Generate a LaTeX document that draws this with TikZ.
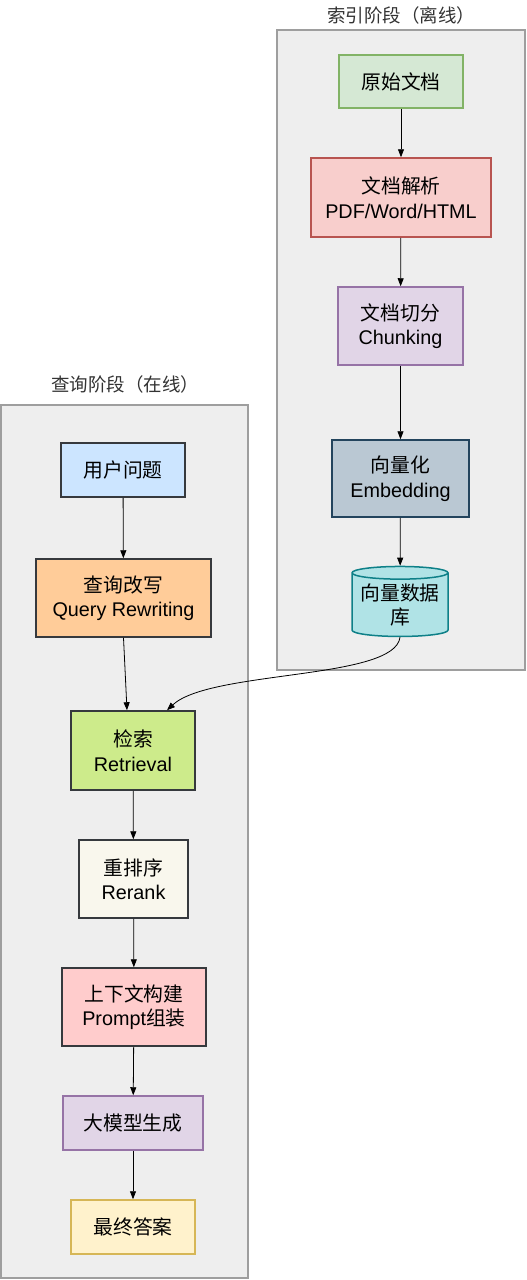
\documentclass[tikz,border=0pt]{standalone}
\usepackage{fontspec}
\setmainfont{Liberation Sans}
\newfontfamily\cjk{Noto Sans CJK SC}
\usetikzlibrary{shapes.geometric,arrows.meta}

\definecolor{stagefill}{HTML}{EEEEEE}
\definecolor{stageline}{HTML}{9E9E9E}
\definecolor{darkline}{HTML}{36393D}
\definecolor{greenfill}{HTML}{D5E8D4}
\definecolor{greenline}{HTML}{82B366}
\definecolor{redfill}{HTML}{F8CECC}
\definecolor{redline}{HTML}{B85450}
\definecolor{purplefill}{HTML}{E1D5E7}
\definecolor{purpleline}{HTML}{9673A6}
\definecolor{slatefill}{HTML}{BAC8D3}
\definecolor{slateline}{HTML}{23445D}
\definecolor{tealfill}{HTML}{B0E3E6}
\definecolor{tealline}{HTML}{0E8088}
\definecolor{bluefill}{HTML}{CCE5FF}
\definecolor{orangefill}{HTML}{FFCC99}
\definecolor{limefill}{HTML}{CDEB8B}
\definecolor{creamfill}{HTML}{F9F7ED}
\definecolor{pinkfill}{HTML}{FFCCCC}
\definecolor{yellowfill}{HTML}{FFF2CC}
\definecolor{yellowline}{HTML}{D6B656}

\tikzset{
  stage/.style={draw=stageline,fill=stagefill,line width=2pt,inner sep=0pt},
  stagetitle/.style={text=black!80,font=\fontsize{18.5}{22}\selectfont\cjk},
  box/.style={draw,line width=1.5pt,align=center,inner sep=2pt,
    font=\fontsize{19.8}{24.5}\selectfont},
  flow/.style={-{Triangle[length=8pt,width=6pt]},line width=0.8pt,black}
}

\begin{document}
\begin{tikzpicture}[x=1pt,y=-1pt]
      \useasboundingbox (0,0) rectangle (527,1280);

      % stages
      \node[stage,minimum width=248,minimum height=640] (offline) at (401,350) {};
      \node[stagetitle] (offlinetitle) at (401,15) {索引阶段（离线）};
      \node[stage,minimum width=247,minimum height=873] (online) at (124.5,841.5) {};
      \node[stagetitle] (onlinetitle) at (125,384) {查询阶段（在线）};

      % indexing
      \node[box,draw=greenline,fill=greenfill,minimum width=124,minimum height=53] (rawdoc) at (401,81.5) {\cjk 原始文档};
      \node[box,draw=redline,fill=redfill,minimum width=180,minimum height=79] (parse) at (401,197.5) {{\cjk 文档解析}\\PDF/Word/HTML};
      \node[box,draw=purpleline,fill=purplefill,minimum width=125,minimum height=78] (chunk) at (400.5,326) {{\cjk 文档切分}\\Chunking};
      \node[box,draw=slateline,fill=slatefill,minimum width=137,minimum height=77] (embed) at (400.5,478.5) {{\cjk 向量化}\\Embedding};
      \node[box,shape=cylinder,shape border rotate=90,aspect=0.16,draw=tealline,fill=tealfill,
        minimum width=96,minimum height=70,inner sep=0pt] (vecdb) at (400,605) {{\cjk 向量数据}\\{\cjk 库}};

      % query
      \node[box,draw=darkline,fill=bluefill,minimum width=124,minimum height=54] (question) at (123,470) {\cjk 用户问题};
      \node[box,draw=darkline,fill=orangefill,minimum width=175,minimum height=78] (rewrite) at (123.5,598) {{\cjk 查询改写}\\Query Rewriting};
      \node[box,draw=darkline,fill=limefill,minimum width=124,minimum height=79] (retrieve) at (133,750.5) {{\cjk 检索}\\Retrieval};
      \node[box,draw=darkline,fill=creamfill,minimum width=109,minimum height=78] (rerank) at (133.5,879) {{\cjk 重排序}\\Rerank};
      \node[box,draw=darkline,fill=pinkfill,minimum width=144,minimum height=78] (context) at (134,1007) {{\cjk 上下文构建}\\Prompt{\cjk 组装}};
      \node[box,draw=purpleline,fill=purplefill,minimum width=140,minimum height=54] (generate) at (133,1123) {\cjk 大模型生成};
      \node[box,draw=yellowline,fill=yellowfill,minimum width=124,minimum height=54] (answer) at (133,1227) {\cjk 最终答案};

      % arrows
      \draw[flow] (rawdoc) -- (parse);
      \draw[flow] (parse) -- (chunk);
      \draw[flow] (chunk) -- (embed);
      \draw[flow] (embed) -- (vecdb);
      \draw[flow] (question) -- (rewrite);
      \draw[flow] (rewrite.south) -- ([xshift=-6pt]retrieve.north);
      \draw[flow] (vecdb.south) .. controls (395,680) and (210,670) .. ([xshift=34pt]retrieve.north);
      \draw[flow] (retrieve) -- (rerank);
      \draw[flow] (rerank) -- (context);
      \draw[flow] (context) -- (generate);
      \draw[flow] (generate) -- (answer);
\end{tikzpicture}
\end{document}
